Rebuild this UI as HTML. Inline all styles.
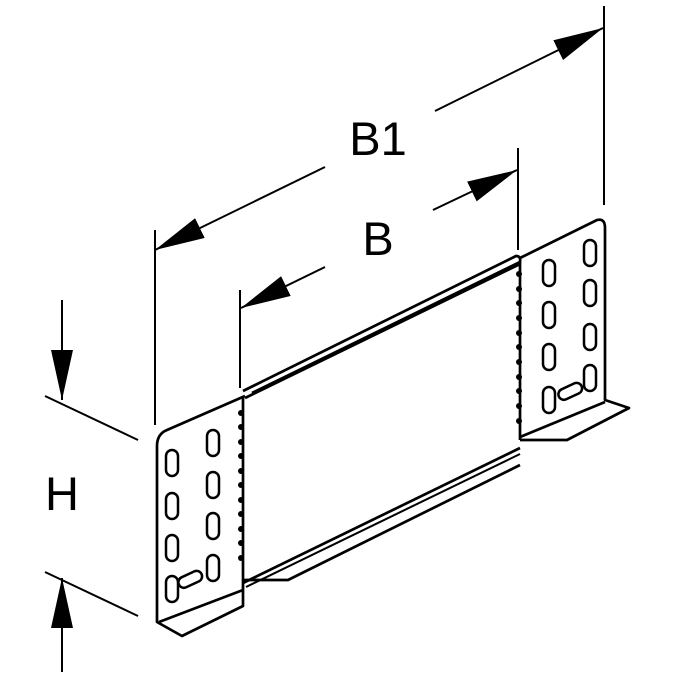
<!DOCTYPE html>
<html><head><style>body{margin:0;background:#fff}svg{display:block}</style></head><body>
<svg width="684" height="695" viewBox="0 0 684 695" xmlns="http://www.w3.org/2000/svg" font-family="Liberation Sans, sans-serif">
<defs>
<marker id="a" markerWidth="52" markerHeight="22" refX="50" refY="11" orient="auto" markerUnits="userSpaceOnUse"><path d="M0,0 L50,11 L0,22 Z" fill="#000"/></marker>
</defs>
<g stroke="#000" stroke-width="2" fill="none">
<line x1="155" y1="230" x2="155" y2="425"/>
<line x1="604" y1="6" x2="604" y2="205"/>
<line x1="240" y1="290" x2="240" y2="388"/>
<line x1="518" y1="148" x2="518" y2="250"/>
<line x1="325" y1="167" x2="155" y2="250" marker-end="url(#a)"/>
<line x1="435" y1="111" x2="603" y2="28" marker-end="url(#a)"/>
<line x1="325" y1="267" x2="241" y2="308" marker-end="url(#a)"/>
<line x1="433" y1="210" x2="517" y2="170" marker-end="url(#a)"/>
<line x1="45" y1="396" x2="138" y2="440"/>
<line x1="45" y1="572" x2="138" y2="616"/>
<line x1="62" y1="300" x2="62" y2="400" marker-end="url(#a)"/>
<line x1="62" y1="672" x2="62" y2="578" marker-end="url(#a)"/>
</g>
<g stroke="#000" stroke-width="2.7" fill="none" stroke-linejoin="round">
<path d="M243,391 L516,256 Q521,256 520,262 L252,393"/>
<line x1="245" y1="398" x2="520" y2="264"/>
<path d="M243,583 L520,448"/>
<path d="M246,587 L520,454" stroke-width="2"/>
<path d="M243,580 L288,580 L520,465"/>
<path d="M245,396 L167,430 Q157,434 157,446 L157,622 L182,636 L243,606 L243,583"/>
<line x1="243" y1="398" x2="243" y2="583"/>
<line x1="159" y1="622" x2="243" y2="590"/>
<path d="M520,258 L597,220 Q605,218 605,228 L605,400 L629,408 L567,440 L520,440"/>
<line x1="605" y1="402" x2="520" y2="437"/>
<line x1="520" y1="262" x2="520" y2="440"/>
<g stroke-width="2.5">
<rect x="166" y="450" width="12" height="26" rx="6"/>
<rect x="166" y="493" width="12" height="26" rx="6"/>
<rect x="166" y="535" width="12" height="26" rx="6"/>
<rect x="166" y="576" width="12" height="26" rx="6"/>
<rect x="207" y="430" width="12" height="26" rx="6"/>
<rect x="207" y="472" width="12" height="26" rx="6"/>
<rect x="207" y="513" width="12" height="26" rx="6"/>
<rect x="207" y="555" width="12" height="26" rx="6"/>
<rect x="178" y="574" width="25" height="11" rx="5.5" transform="rotate(-25 190 580)"/>
<rect x="543" y="260" width="12" height="26" rx="6"/>
<rect x="543" y="302" width="12" height="26" rx="6"/>
<rect x="543" y="344" width="12" height="26" rx="6"/>
<rect x="543" y="387" width="12" height="26" rx="6"/>
<rect x="584" y="240" width="12" height="26" rx="6"/>
<rect x="584" y="280" width="12" height="26" rx="6"/>
<rect x="584" y="324" width="12" height="26" rx="6"/>
<rect x="584" y="365" width="12" height="26" rx="6"/>
<rect x="558" y="386" width="25" height="11" rx="5.5" transform="rotate(-25 570 392)"/>
</g>
</g>
<g fill="#000">
<circle cx="241" cy="413" r="3"/><circle cx="241" cy="427" r="3"/><circle cx="241" cy="442" r="3"/><circle cx="241" cy="456" r="3"/><circle cx="241" cy="471" r="3"/><circle cx="241" cy="485" r="3"/><circle cx="241" cy="500" r="3"/><circle cx="241" cy="514" r="3"/><circle cx="241" cy="529" r="3"/><circle cx="241" cy="543" r="3"/><circle cx="241" cy="558" r="3"/>
<circle cx="519" cy="274" r="3"/><circle cx="519" cy="289" r="3"/><circle cx="519" cy="303" r="3"/><circle cx="519" cy="318" r="3"/><circle cx="519" cy="333" r="3"/><circle cx="519" cy="347" r="3"/><circle cx="519" cy="362" r="3"/><circle cx="519" cy="377" r="3"/><circle cx="519" cy="391" r="3"/><circle cx="519" cy="406" r="3"/><circle cx="519" cy="421" r="3"/>
<text x="378" y="155" font-size="47" text-anchor="middle">B1</text>
<text x="378" y="255" font-size="47" text-anchor="middle">B</text>
<text x="62" y="510" font-size="47" text-anchor="middle">H</text>
</g>
</svg>
</body></html>
